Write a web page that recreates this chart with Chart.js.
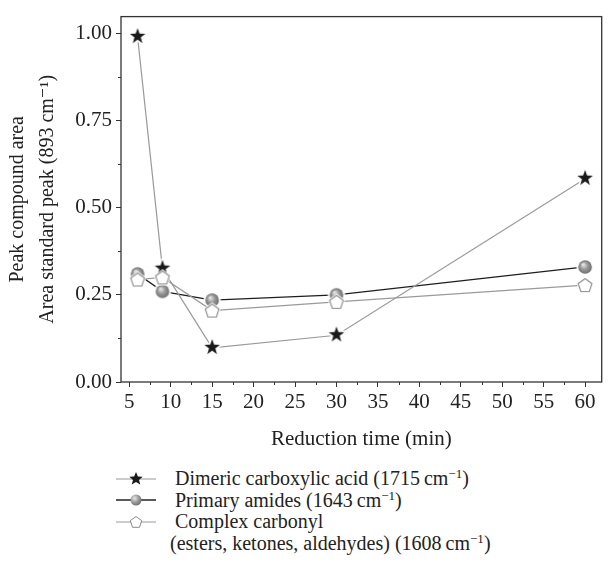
<!DOCTYPE html>
<html>
<head>
<meta charset="utf-8">
<script src="https://cdn.jsdelivr.net/npm/chart.js@4/dist/chart.umd.min.js"></script>
<style>
  html, body { margin: 0; padding: 0; background: #fff; }
  body { width: 611px; height: 565px; position: relative; overflow: hidden; font-family: "Liberation Serif", "DejaVu Serif", serif; color: #222; }
  #wrap { position: absolute; left: 0; top: 0; width: 611px; height: 455px; }
  .legend { position: absolute; left: 116px; top: 468px; font-size: 20px; line-height: 21.5px; }
  .legend .row { display: flex; align-items: center; height: 21.5px; }
  .legend svg { width: 40px; height: 18px; margin-right: 19px; flex: none; }
  sup { font-size: 13px; vertical-align: 7px; line-height: 0; }
</style>
</head>
<body>
<div id="wrap"><canvas id="chart" width="611" height="455"></canvas></div>
<div class="legend">
  <div class="row">
    <svg viewBox="0 0 40 18"><line x1="0" y1="9" x2="40" y2="9" stroke="#999" stroke-width="1.2"/><polygon fill="#1a1a1a" points="20,2 21.9,6.6 26.7,6.8 23,9.9 24.3,14.6 20,12 15.7,14.6 17,9.9 13.3,6.8 18.1,6.6"/></svg>
    <span>Dimeric carboxylic acid (1715&#8201;cm<sup>&minus;1</sup>)</span>
  </div>
  <div class="row">
    <svg viewBox="0 0 40 18"><defs><radialGradient id="sg" cx="0.38" cy="0.35" r="0.7"><stop offset="0" stop-color="#e6e6e6"/><stop offset="0.55" stop-color="#989898"/><stop offset="1" stop-color="#6c6c6c"/></radialGradient></defs><line x1="0" y1="9" x2="40" y2="9" stroke="#222" stroke-width="1.3"/><circle cx="20" cy="9" r="5.5" fill="url(#sg)"/></svg>
    <span>Primary amides (1643&#8201;cm<sup>&minus;1</sup>)</span>
  </div>
  <div class="row">
    <svg viewBox="0 0 40 18"><line x1="0" y1="9" x2="40" y2="9" stroke="#999" stroke-width="1.2"/><polygon fill="#fff" stroke="#8a8a8a" stroke-width="1" points="20,3.5 25.7,7.6 23.5,14.3 16.5,14.3 14.3,7.6"/></svg>
    <span>Complex carbonyl</span>
  </div>
  <div class="row"><span style="padding-left:54px">(esters, ketones, aldehydes) (1608&#8201;cm<sup>&minus;1</sup>)</span></div>
</div>
<script>
const times = [6, 9, 15, 30, 60];
const dimericAcid = [0.99, 0.325, 0.098, 0.134, 0.583];
const primaryAmides = [0.31, 0.26, 0.235, 0.25, 0.33];
const complexCarbonyl = [0.294, 0.30, 0.205, 0.23, 0.278];
const xTicks = [5, 10, 15, 20, 25, 30, 35, 40, 45, 50, 55, 60];
const yTicks = [0, 0.25, 0.5, 0.75, 1.0];
const xMinor = [7.5, 12.5, 17.5, 22.5, 27.5, 32.5, 37.5, 42.5, 47.5, 52.5, 57.5];
const yMinor = [0.125, 0.375, 0.625, 0.875];

const FONT = "'Liberation Serif', 'DejaVu Serif', serif";
const INK = "#333";

function makeCanvas(size, draw) {
  const c = document.createElement("canvas");
  c.width = size; c.height = size;
  draw(c.getContext("2d"), size / 2);
  return c;
}

function starPath(ctx, cx, cy, ro, ri) {
  ctx.beginPath();
  for (let i = 0; i < 10; i++) {
    const r = i % 2 ? ri : ro;
    const a = -Math.PI / 2 + i * Math.PI / 5;
    ctx.lineTo(cx + r * Math.cos(a), cy + r * Math.sin(a));
  }
  ctx.closePath();
}

function pentPath(ctx, cx, cy, r) {
  ctx.beginPath();
  for (let i = 0; i < 5; i++) {
    const a = -Math.PI / 2 + i * 2 * Math.PI / 5;
    ctx.lineTo(cx + r * Math.cos(a), cy + r * Math.sin(a));
  }
  ctx.closePath();
}

// star sits a bit high so it looks centred on its point
const starImg = makeCanvas(22, (ctx, c) => {
  starPath(ctx, c, c - 0.5, 8.2, 3.3);
  ctx.strokeStyle = "#fff"; ctx.lineWidth = 3.5; ctx.lineJoin = "round"; ctx.stroke();
  ctx.fillStyle = "#1a1a1a"; ctx.fill();
});

const sphereImg = makeCanvas(22, (ctx, c) => {
  ctx.beginPath(); ctx.arc(c, c, 8.6, 0, Math.PI * 2); ctx.fillStyle = "#fff"; ctx.fill();
  const g = ctx.createRadialGradient(c - 2, c - 2.5, 0.5, c, c, 7);
  g.addColorStop(0, "#e6e6e6");
  g.addColorStop(0.5, "#989898");
  g.addColorStop(1, "#6e6e6e");
  ctx.beginPath(); ctx.arc(c, c, 6.8, 0, Math.PI * 2); ctx.fillStyle = g; ctx.fill();
});

const pentImg = makeCanvas(22, (ctx, c) => {
  pentPath(ctx, c, c + 0.7, 7.2);
  ctx.strokeStyle = "#fff"; ctx.lineWidth = 3; ctx.stroke();
  ctx.fillStyle = "#fff"; ctx.fill();
  ctx.strokeStyle = "#8a8a8a"; ctx.lineWidth = 1.1; ctx.stroke();
});

const toXY = (ys) => times.map((t, i) => ({ x: t, y: ys[i] }));

const frame = {
  id: "frame",
  afterDraw(chart) {
    const { ctx, chartArea: a, scales } = chart;
    ctx.save();
    ctx.strokeStyle = INK;
    ctx.lineWidth = 1.3;
    ctx.strokeRect(a.left, a.top, a.right - a.left, a.bottom - a.top);
    ctx.lineWidth = 1;
    ctx.beginPath();
    xMinor.forEach((v) => {
      const px = Math.round(scales.x.getPixelForValue(v)) + 0.5;
      ctx.moveTo(px, a.bottom); ctx.lineTo(px, a.bottom + 3);
    });
    yMinor.forEach((v) => {
      const py = Math.round(scales.y.getPixelForValue(v)) + 0.5;
      ctx.moveTo(a.left, py); ctx.lineTo(a.left - 3, py);
    });
    ctx.stroke();
    ctx.restore();
  }
};

new Chart(document.getElementById("chart"), {
  type: "line",
  data: {
    datasets: [
      {
        label: "Dimeric carboxylic acid (1715 cm⁻¹)",
        data: toXY(dimericAcid),
        borderColor: "#9a9a9a",
        borderWidth: 1.2,
        pointStyle: starImg,
        order: 1
      },
      {
        label: "Primary amides (1643 cm⁻¹)",
        data: toXY(primaryAmides),
        borderColor: "#1e1e1e",
        borderWidth: 1.3,
        pointStyle: sphereImg,
        order: 2
      },
      {
        label: "Complex carbonyl (esters, ketones, aldehydes) (1608 cm⁻¹)",
        data: toXY(complexCarbonyl),
        borderColor: "#9a9a9a",
        borderWidth: 1.2,
        pointStyle: pentImg,
        order: 0
      }
    ]
  },
  options: {
    responsive: false,
    animation: false,
    layout: { padding: { top: 13, right: 1, left: 0, bottom: 0 } },
    elements: { line: { tension: 0, fill: false }, point: { radius: 8 } },
    plugins: { legend: { display: false }, tooltip: { enabled: false } },
    scales: {
      x: {
        type: "linear",
        min: 4,
        max: 62,
        afterBuildTicks: (s) => { s.ticks = xTicks.map((v) => ({ value: v })); },
        afterFit: (s) => { s.height = 73; },
        border: { display: false },
        grid: { drawOnChartArea: false, drawTicks: true, tickLength: 5, tickColor: INK, tickWidth: 1 },
        ticks: { color: "#222", font: { family: FONT, size: 21 }, padding: 3, maxRotation: 0 },
        title: { display: true, text: "Reduction time (min)", color: "#222", font: { family: FONT, size: 21 }, padding: { top: 2, bottom: 3 } }
      },
      y: {
        type: "linear",
        min: 0,
        max: 1.048,
        afterBuildTicks: (s) => { s.ticks = yTicks.map((v) => ({ value: v })); },
        afterFit: (s) => { s.width = 121; },
        border: { display: false },
        grid: { drawOnChartArea: false, drawTicks: true, tickLength: 5, tickColor: INK, tickWidth: 1 },
        ticks: { color: "#222", font: { family: FONT, size: 21 }, padding: 4, callback: (v) => v.toFixed(2) },
        title: {
          display: true,
          text: ["Peak compound area", "Area standard peak (893 cm⁻¹)"],
          color: "#222",
          font: { family: FONT, size: 20, lineHeight: 1.5 },
          padding: { top: 3, bottom: 0 }
        }
      }
    }
  },
  plugins: [frame]
});
</script>
</body>
</html>
